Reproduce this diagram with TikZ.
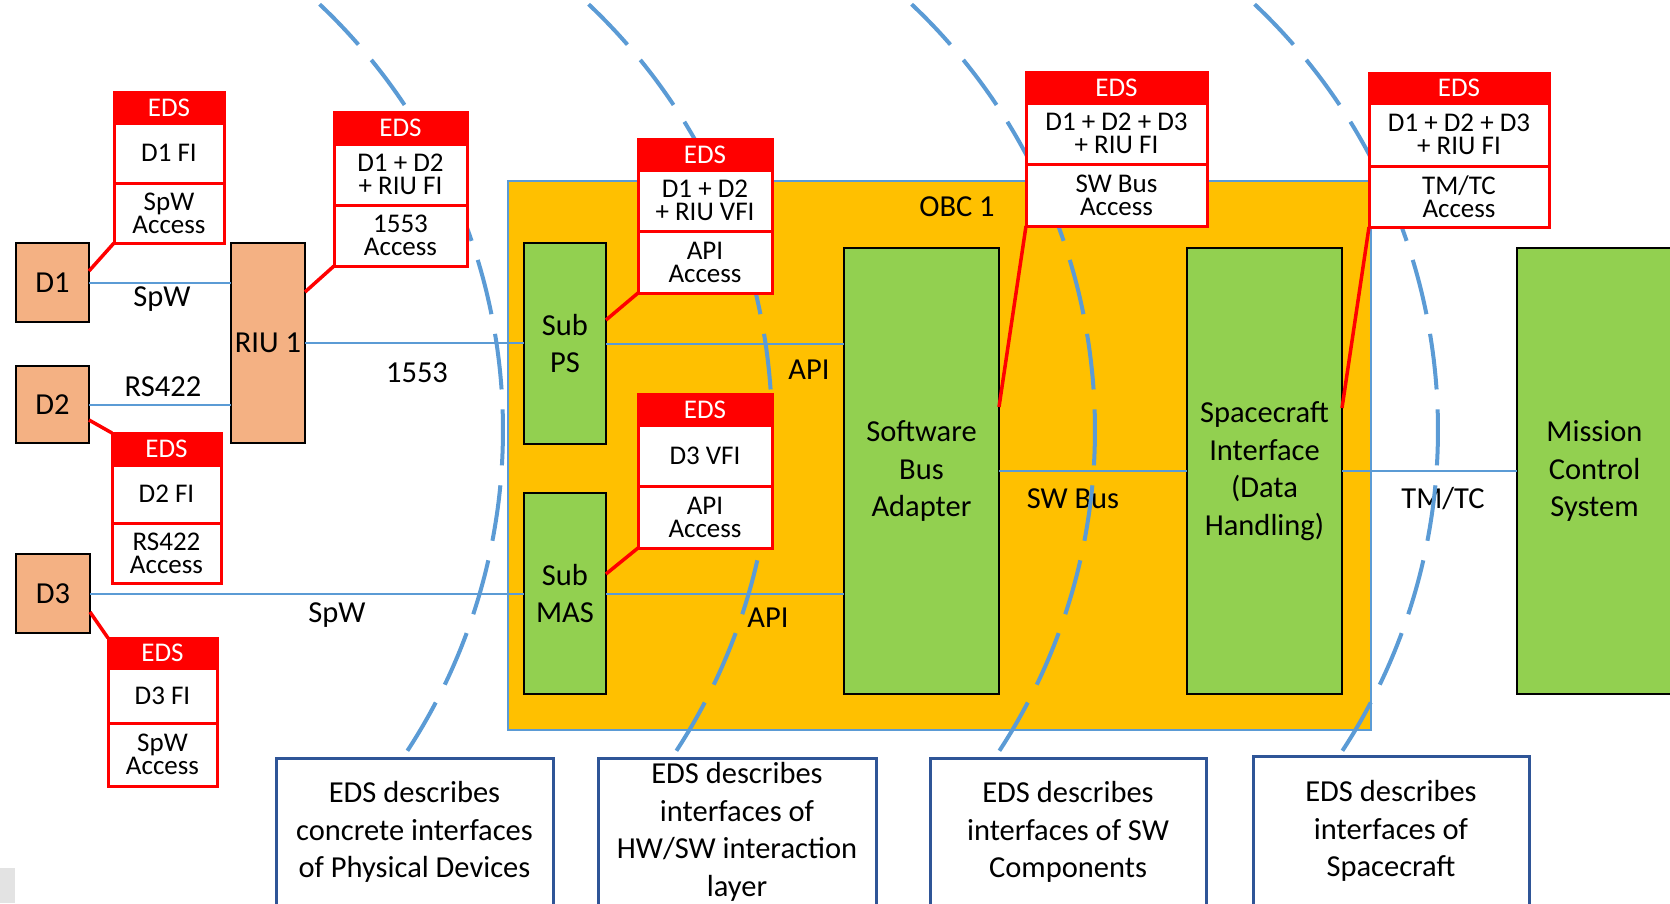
\documentclass[tikz,border=0pt]{standalone}
\usepackage{fontspec}
\setmainfont{Carlito}
\definecolor{edsred}{HTML}{FF0000}
\definecolor{devor}{HTML}{F4B183}
\definecolor{grn}{HTML}{92D050}
\definecolor{obcor}{HTML}{FFC000}
\definecolor{lblue}{HTML}{5B9BD5}
\definecolor{dblue}{HTML}{2F5597}
\newcommand\mainsz{\fontsize{30.5}{37.5}\selectfont}
\newcommand\edssz{\fontsize{27}{23}\selectfont}
\newcommand\edsbox[9]{%
 \node[edshead, minimum width={#4-#2}, minimum height={#5-#3}] (#1h) at ({(#2+#4)/2},{(#3+#5)/2}) {EDS};
 \node[edsrow, minimum width={#4-#2}, minimum height={#6-#5}] (#1a) at ({(#2+#4)/2},{(#5+#6)/2}) {#8};
 \node[edsrow, minimum width={#4-#2}, minimum height={#7-#6}] (#1b) at ({(#2+#4)/2},{(#6+#7)/2}) {#9};
 \node[edsframe, minimum width={#4-#2}, minimum height={#7-#3}] (#1) at ({(#2+#4)/2},{(#3+#7)/2}) {};
}
\begin{document}
\begin{tikzpicture}[x=1pt,y=-1pt,
  dev/.style={draw=black, line width=1.8pt, fill=devor, font=\mainsz, inner sep=0, outer sep=0},
  gbox/.style={draw=black, line width=1.8pt, fill=grn, font=\mainsz, align=center, inner sep=0, outer sep=0},
  obcbox/.style={draw=lblue, line width=1.5pt, fill=obcor, inner sep=0, outer sep=0},
  lbl/.style={font=\mainsz, inner sep=0},
  bline/.style={draw=lblue, line width=2pt},
  rline/.style={draw=edsred, line width=3.5pt},
  arcline/.style={draw=lblue, line width=4pt, dash pattern=on 56pt off 20pt},
  edshead/.style={fill=edsred, text=white, font=\edssz, inner sep=0, outer sep=0},
  edsrow/.style={draw=edsred, line width=3pt, fill=white, font=\edssz, align=center, inner sep=0, outer sep=0},
  edsframe/.style={draw=edsred, line width=3pt, inner sep=0, outer sep=0},
  bbox/.style={draw=dblue, line width=3pt, fill=white, font=\mainsz, align=center, inner sep=0, outer sep=0},
]
\useasboundingbox (0,0) rectangle (1670,903);
\fill[gray!22] (0,868) rectangle (15,903);

% OBC
\node[obcbox, minimum width=863, minimum height=549] (OBC) at (939.5,455.5) {};
\node[lbl] (obclbl) at (957,207) {OBC 1};

% devices
\node[dev, minimum width=73, minimum height=79] (D1) at (52.5,282.5) {D1};
\node[dev, minimum width=73, minimum height=77] (D2) at (52.5,404.5) {D2};
\node[dev, minimum width=74, minimum height=79] (D3) at (53,593.5) {D3};
\node[dev, minimum width=74, minimum height=200] (RIU) at (268,343) {RIU 1};

% green boxes
\node[gbox, minimum width=82, minimum height=201] (SubPS) at (565,343.5) {Sub\\PS};
\node[gbox, minimum width=82, minimum height=201] (SubMAS) at (565,593.5) {Sub\\MAS};
\node[gbox, minimum width=155, minimum height=446] (SBA) at (921.5,471) {Software\\Bus\\Adapter};
\node[gbox, minimum width=155, minimum height=446] (SCI) at (1264.5,471) {Spacecraft\\Interface\\(Data\\Handling)};
\node[gbox, minimum width=155, minimum height=446] (MCS) at (1594.5,471) {Mission\\Control\\System};

% lines
\draw[bline] (D1.east) -- (D1.east -| RIU.west);
\draw[bline] (D2.east) -- (D2.east -| RIU.west);
\draw[bline] (RIU.east) -- (RIU.east -| SubPS.west);
\draw[bline] (SubPS.east) -- (SubPS.east -| SBA.west);
\draw[bline] (D3.east) -- (D3.east -| SubMAS.west);
\draw[bline] (SubMAS.east) -- (SubMAS.east -| SBA.west);
\draw[bline] (SBA.east) -- (SBA.east -| SCI.west);
\draw[bline] (SCI.east) -- (SCI.east -| MCS.west);

% labels
\node[lbl] (l1) at (162,299) {SpW};
\node[lbl] (l2) at (163,387) {RS422};
\node[lbl] (l3) at (417,373) {1553};
\node[lbl] (l4) at (337,615) {SpW};
\node[lbl] (l5) at (809,370) {API};
\node[lbl] (l6) at (768,618) {API};
\node[lbl] (l7) at (1073,499) {SW Bus};
\node[lbl] (l8) at (1443,499) {TM/TC};

% dashed arcs
\foreach \cx in {-83,186,509,852}{
  \draw[arcline] plot[domain=-46.6:34, samples=90, smooth] ({\cx+586*cos(\x)},{430+586*sin(\x)});
}

% EDS boxes
\edsbox{edsA}{114}{92}{224}{123}{183}{243}{D1 FI}{SpW\\Access}
\edsbox{edsB}{334}{112}{467}{144}{205}{266}{D1 + D2\\+ RIU FI}{1553\\Access}
\edsbox{edsC}{112}{433}{221}{465}{523}{583}{D2 FI}{RS422\\Access}
\edsbox{edsD}{108}{638}{217}{668}{723}{786}{D3 FI}{SpW\\Access}
\edsbox{edsE}{638}{139}{772}{170}{231}{293}{D1 + D2\\+ RIU VFI}{API\\Access}
\edsbox{edsF}{638}{394}{772}{425}{486}{548}{D3 VFI}{API\\Access}
\edsbox{edsG}{1026}{72}{1207}{103}{164}{226}{D1 + D2 + D3\\+ RIU FI}{SW Bus\\Access}
\edsbox{edsH}{1369}{73}{1549}{103}{166}{227}{D1 + D2 + D3\\+ RIU FI}{TM/TC\\Access}

% red connectors
\draw[rline] ([yshift=11.5pt]D1.east) -- (edsA.south west);
\draw[rline] ([yshift=51pt]RIU.east) -- (edsB.south west);
\draw[rline] ([yshift=-15.5pt]D2.east) -- (edsC.north west);
\draw[rline] ([yshift=-18.5pt]D3.east) -- (edsD.north west);
\draw[rline] ([yshift=23.5pt]SubPS.east) -- (edsE.south west);
\draw[rline] ([yshift=19.5pt]SubMAS.east) -- (edsF.south west);
\draw[rline] ([yshift=64pt]SBA.east) -- (edsG.south west);
\draw[rline] ([yshift=63pt]SCI.east) -- (edsH.south west);

% bottom boxes
\node[bbox, minimum width=277, minimum height=148] (B1) at (414.5,832) {EDS describes\\concrete interfaces\\of Physical Devices};
\node[bbox, minimum width=278, minimum height=148] (B2) at (737,832) {EDS describes\\interfaces of\\HW/SW interaction\\layer};
\node[bbox, minimum width=276, minimum height=148] (B3) at (1068,832) {EDS describes\\interfaces of SW\\Components};
\node[bbox, minimum width=276, minimum height=150] (B4) at (1391,831) {EDS describes\\interfaces of\\Spacecraft};
\end{tikzpicture}
\end{document}
